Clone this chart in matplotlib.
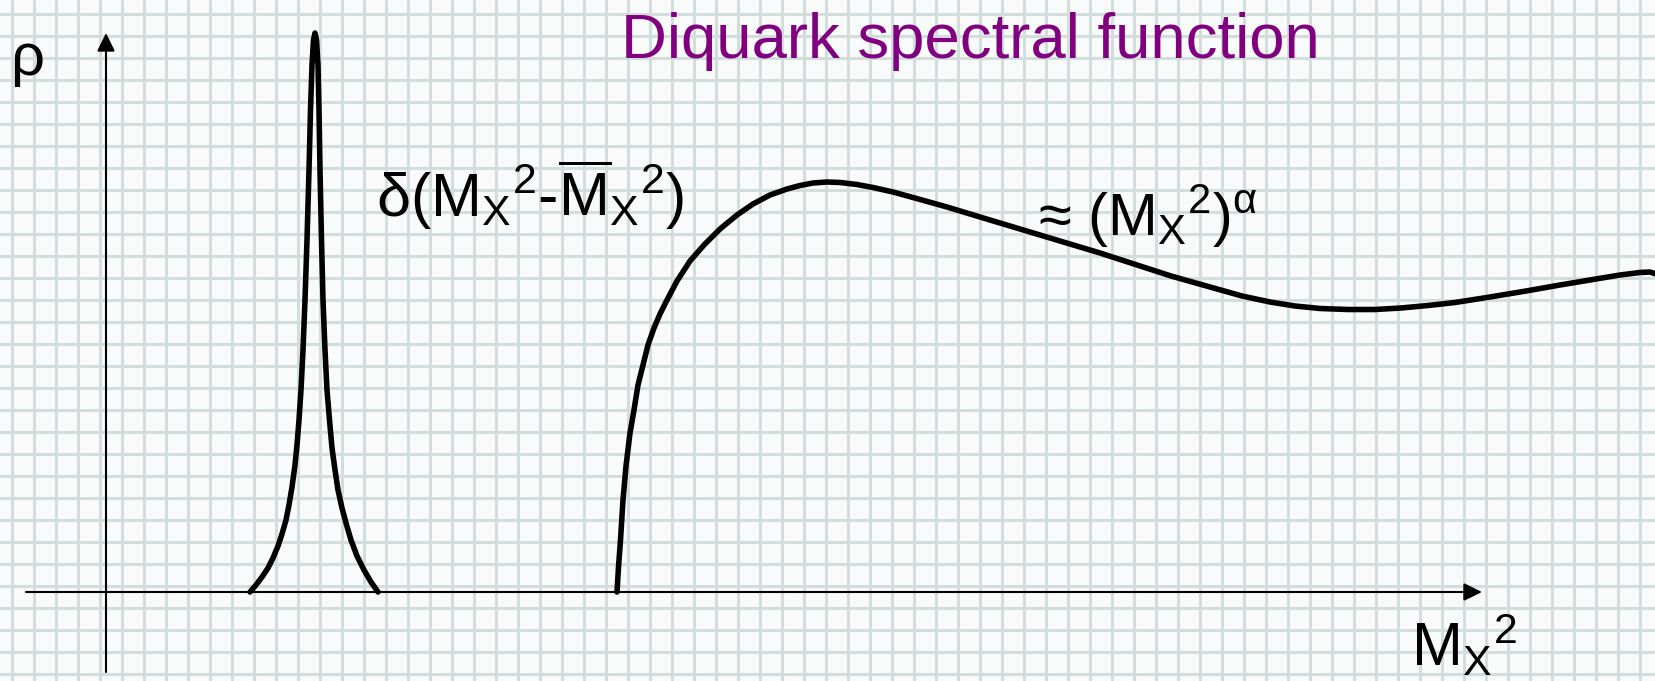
import numpy as np
import matplotlib
matplotlib.use("Agg")
import matplotlib.pyplot as plt

plt.rcParams['font.family'] = ['Liberation Sans', 'DejaVu Sans']
plt.rcParams['mathtext.fontset'] = 'custom'
plt.rcParams['mathtext.rm'] = 'Liberation Sans'
plt.rcParams['mathtext.it'] = 'Liberation Sans'
plt.rcParams['mathtext.default'] = 'regular'

# narrow resonance near threshold
peak_x = [144, 150, 156, 162, 167, 172, 176, 180, 183, 186, 189, 191, 193, 195,
          197, 199, 201, 203, 204.5, 206, 207.5, 209,
          210.5, 212, 213, 214, 215.5, 217, 219, 221, 223.5, 226, 229, 232,
          236, 240, 245, 251, 258, 265, 272]
peak_y = [0, 7, 15, 24, 34, 46, 58, 72, 87, 105, 127, 147, 172, 202,
          242, 292, 352, 422, 482, 527, 552, 559,
          552, 527, 482, 422, 352, 292, 242, 202, 172, 144, 122, 102,
          84, 69, 52, 36, 22, 10, 0]

# continuum part of the spectral function
cont_x = [511, 512.5, 514.5, 517, 520, 524, 528, 532, 536.5, 542, 548, 554, 561,
          571, 584, 598, 614, 631, 647, 664, 681, 694, 707, 721, 734, 751, 767,
          787, 807, 841, 874, 934, 994, 1065, 1136, 1164, 1189, 1214, 1242,
          1269, 1295, 1322, 1349, 1384, 1420, 1454, 1490, 1514, 1534, 1544, 1550]
cont_y = [0, 25, 52, 92, 126, 159, 182, 207, 225, 247, 264, 278, 292,
          311, 331, 347, 363, 377, 388, 397, 403, 406.5, 409, 410, 409.5, 407.5,
          404.5, 400, 394.5, 385, 375, 357, 339, 316, 296, 290, 286, 283.5,
          282.5, 282.5, 284, 286.5, 289.5, 295, 301, 307, 313, 317, 319.5,
          320, 318]

purple = '#800080'
grid_col = '#d3dddb'

fig = plt.figure(figsize=(16.56, 6.81), dpi=100)
ax = fig.add_axes([0, 0, 1, 1])
ax.set_facecolor('#f9fbfb')
ax.set_xlim(-106, 1550)
ax.set_ylim(-89, 592)

# squared paper background
ax.set_xticks(np.arange(-94, 1551, 22))
ax.set_yticks(np.arange(-82, 593, 22))
ax.grid(True, color=grid_col, lw=2.2)
ax.tick_params(length=0, labelbottom=False, labelleft=False)
for s in ax.spines.values():
    s.set_visible(False)
ax.set_axisbelow(True)

# coordinate axes with arrow heads
arrow = dict(arrowstyle='-|>,head_length=11,head_width=5.4', color='k',
             lw=1.5, shrinkA=0, shrinkB=0, mutation_scale=1)
ax.annotate('', xy=(1376, 0), xytext=(-80, 0), arrowprops=arrow)
ax.annotate('', xy=(0, 559), xytext=(0, -80), arrowprops=arrow)

ax.plot(peak_x, peak_y, color='k', lw=4.0, solid_capstyle='round',
        solid_joinstyle='round')
ax.plot(cont_x, cont_y, color='k', lw=4.0, solid_capstyle='round',
        solid_joinstyle='round')

ax.text(-96, 517, 'ρ', fontsize=43, va='baseline', ha='left')
ax.text(1305, -74, r'M$_X{}^2$', fontsize=44, va='baseline', ha='left')
ax.text(515, 534, 'Diquark spectral function', fontsize=45.7, color=purple,
        va='baseline', ha='left')
ax.text(270, 375, r'δ($M_X{}^2$-$\overline{M}_X{}^2$)', fontsize=44,
        va='baseline', ha='left')
ax.text(932, 356, r'≈ ($M_X{}^2$)$^{α}$', fontsize=43, va='baseline',
        ha='left')

fig.savefig('out.png', dpi=100)
